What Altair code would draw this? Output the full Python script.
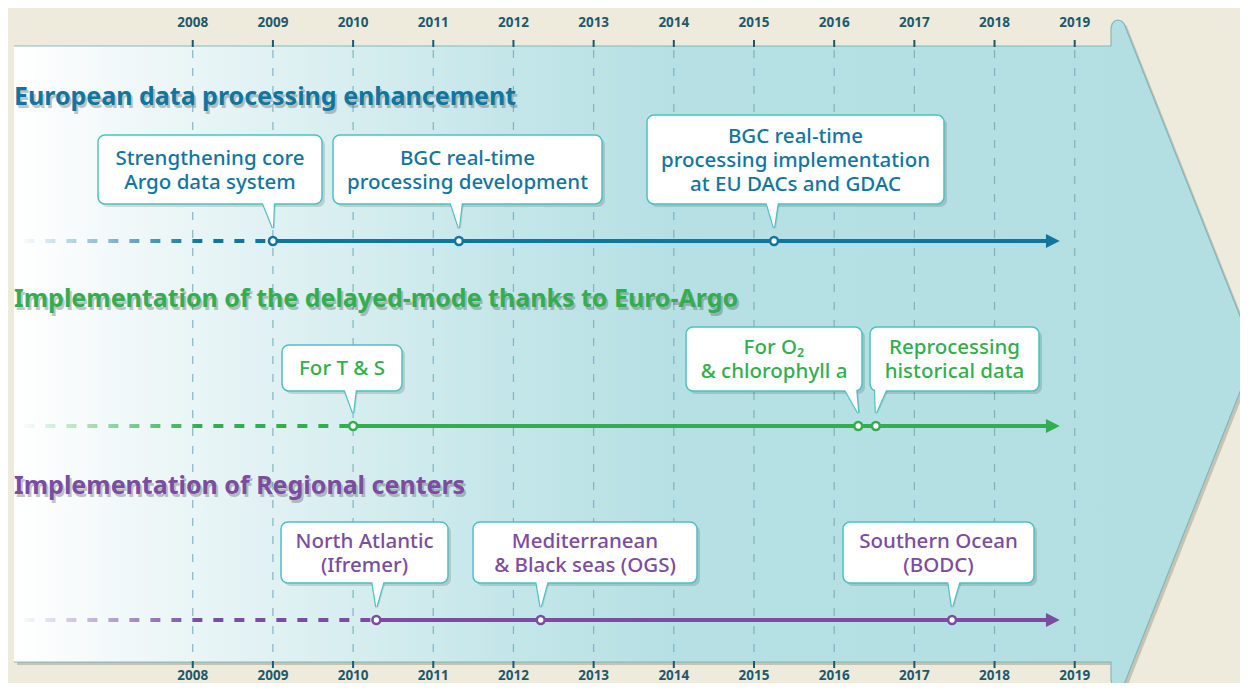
import altair as alt
import pandas as pd

# ---------------- data ----------------
years = list(range(2008, 2020))
row_titles = [
    "European data processing enhancement",
    "Implementation of the delayed-mode thanks to Euro-Argo",
    "Implementation of Regional centers",
]
row_colors = ["#11769f", "#33ae4f", "#7c4ca0"]

row1_years = [2009.0, 2011.32, 2015.25]
row1_labels = ["Strengthening core\nArgo data system",
               "BGC real-time\nprocessing development",
               "BGC real-time\nprocessing implementation\nat EU DACs and GDAC"]
row2_years = [2010.0, 2016.30, 2016.52]
row2_labels = ["For T & S", "For O\u2082\n& chlorophyll a", "Reprocessing\nhistorical data"]
row3_years = [2010.29, 2012.34, 2017.47]
row3_labels = ["North Atlantic\n(Ifremer)", "Mediterranean\n& Black seas (OGS)", "Southern Ocean\n(BODC)"]

line_start_year = 2005.9
line_end_year = 2018.64

# ---------------- layout (screen pixels) ----------------
W, H = 1232, 675
PPY = 80.18
D0 = 2005.696
D1 = D0 + W / PPY


def sx(px):
    return D0 + (px - 8) / PPY


ROW_LINE_Y = [241, 426, 620]
ROW_TITLE_Y = [97, 299, 486]
BOXES = [
    [(98, 322, 135, 204), (333, 602, 135, 204), (647, 944, 115, 204)],
    [(282, 402, 345, 391), (686, 862, 327, 391), (870, 1039, 327, 391)],
    [(281, 448, 522, 583), (473, 697, 522, 583), (843, 1034, 522, 583)],
]
TAIL_BASE = [[268, 456, 772], [350, 850, 881], [378, 542, 954]]
LINE_H = 24

BG = "#eeebdd"
TEAL = "#b3dfe3"
SHADOW = "#c8c3b0"
BORDER = "#4cc1c3"
YEARC = "#1b5a6e"
FONT = "Noto Sans"

xs = alt.Scale(domain=[D0, D1], nice=False, zero=False)
ys = alt.Scale(domain=[8, 683], reverse=True, nice=False, zero=False)
X = alt.X("x:Q", scale=xs, axis=None)
Y = alt.Y("y:Q", scale=ys, axis=None)

layers = []

# ---- arrow shape ----
rect_df = pd.DataFrame({"x": [sx(14)], "x2": [sx(1112)], "y": [46], "y2": [662]})
head_pts = [(1111, 28), (1112, 24), (1114.5, 21), (1118, 20), (1121.5, 21), (1124, 23.5), (1255, 354)]
head_df = pd.DataFrame({"x": [sx(p[0]) for p in head_pts],
                        "y": [p[1] for p in head_pts],
                        "y2": [708 - p[1] for p in head_pts]})

layers.append(alt.Chart(rect_df).mark_rect(color=SHADOW, xOffset=3, x2Offset=3, yOffset=3, y2Offset=3)
              .encode(x=X, x2="x2", y=Y, y2="y2"))
layers.append(alt.Chart(head_df).mark_area(color=SHADOW, orient="vertical", xOffset=3, yOffset=3, y2Offset=3)
              .encode(x=X, y=Y, y2="y2"))

grad_bg = alt.Gradient(gradient="linear", x1=0, x2=1, y1=0, y2=0, stops=[
    alt.GradientStop(color="#ffffff", offset=0),
    alt.GradientStop(color="#f1f8f9", offset=0.1),
    alt.GradientStop(color="#d8eef0", offset=0.3),
    alt.GradientStop(color="#c4e6e9", offset=0.45),
    alt.GradientStop(color="#b6e0e4", offset=0.6),
    alt.GradientStop(color=TEAL, offset=1),
])
layers.append(alt.Chart(rect_df).mark_rect(fill=grad_bg).encode(x=X, x2="x2", y=Y, y2="y2"))
layers.append(alt.Chart(head_df).mark_area(color=TEAL, orient="vertical", opacity=1).encode(x=X, y=Y, y2="y2"))

outline_pts = [(14, 46), (1111, 46)] + head_pts
orows = []
for side in (0, 1):
    for i, (px, py) in enumerate(outline_pts):
        orows.append({"x": sx(px), "y": py if side == 0 else 708 - py, "o": i, "g": side})
layers.append(alt.Chart(pd.DataFrame(orows)).mark_line(color="#72b3be", strokeWidth=1.2, opacity=0.85)
              .encode(x=X, y=Y, order="o:Q", detail="g:N"))

# ---- grid, ticks, year labels ----
grid_df = pd.DataFrame({"x": years, "y": [50] * len(years), "y2": [662] * len(years)})
layers.append(alt.Chart(grid_df).mark_rule(color="#78a9b7", strokeWidth=1.2, strokeDash=[8, 10], opacity=0.85)
              .encode(x=X, y=Y, y2="y2"))
for (t0, t1) in ((40, 47), (661, 668)):
    tick_df = pd.DataFrame({"x": years, "y": [t0] * len(years), "y2": [t1] * len(years)})
    layers.append(alt.Chart(tick_df).mark_rule(color=YEARC, strokeWidth=2).encode(x=X, y=Y, y2="y2"))
for ly in (22.5, 676):
    lab_df = pd.DataFrame({"x": years, "y": [ly] * len(years), "t": [str(v) for v in years]})
    layers.append(alt.Chart(lab_df).mark_text(font=FONT, fontSize=13.5, fontWeight="bold", color=YEARC,
                                              baseline="middle", align="center")
                  .encode(x=X, y=Y, text="t:N"))

# ---- rows ----
all_years = [row1_years, row2_years, row3_years]
all_labels = [row1_labels, row2_labels, row3_labels]

for r in range(3):
    c = row_colors[r]
    ly = ROW_LINE_Y[r]
    ev = all_years[r]
    # title with shadow
    tdf = pd.DataFrame({"x": [sx(14)], "y": [ROW_TITLE_Y[r]], "t": [row_titles[r]]})
    layers.append(alt.Chart(tdf).mark_text(font=FONT, fontSize=25, fontWeight="bold", color="#404040",
                                           opacity=0.3, align="left", baseline="middle", dx=2, dy=2.5)
                  .encode(x=X, y=Y, text="t:N"))
    layers.append(alt.Chart(tdf).mark_text(font=FONT, fontSize=25, fontWeight="bold", color=c,
                                           align="left", baseline="middle")
                  .encode(x=X, y=Y, text="t:N"))

    # dashed fading part
    end_px = 8 + (ev[0] - D0) * PPY
    start_px = 8 + (line_start_year - D0) * PPY
    full = min(0.95, (200 - start_px) / (end_px - start_px))
    hexc = c.lstrip("#")
    rr, gg, bb = int(hexc[0:2], 16), int(hexc[2:4], 16), int(hexc[4:6], 16)
    dgrad = alt.Gradient(gradient="linear", x1=0, x2=1, y1=0, y2=0, stops=[
        alt.GradientStop(color=f"rgba({rr},{gg},{bb},0.04)", offset=0),
        alt.GradientStop(color=f"rgba({rr},{gg},{bb},0.55)", offset=full * 0.55),
        alt.GradientStop(color=f"rgba({rr},{gg},{bb},1)", offset=full),
        alt.GradientStop(color=f"rgba({rr},{gg},{bb},1)", offset=1),
    ])
    ddf = pd.DataFrame({"x": [line_start_year, ev[0]], "y": [ly, ly + 0.05]})
    layers.append(alt.Chart(ddf).mark_line(stroke=dgrad, strokeWidth=4, strokeDash=[10, 11], strokeCap="butt")
                  .encode(x=X, y=Y))
    # solid part + arrow head
    sdf = pd.DataFrame({"x": [ev[0]], "x2": [line_end_year + 0.05], "y": [ly]})
    layers.append(alt.Chart(sdf).mark_rule(color=c, strokeWidth=4).encode(x=X, x2="x2", y=Y))
    adf = pd.DataFrame({"x": [line_end_year + 7 / PPY], "y": [ly]})
    layers.append(alt.Chart(adf).mark_point(shape="M-1,-1L1,0L-1,1Z", filled=True, color=c, size=190,
                                            opacity=1, strokeWidth=0)
                  .encode(x=X, y=Y))

    # callouts
    bx = BOXES[r]
    labels = all_labels[r]
    box_df = pd.DataFrame({
        "x": [sx(b[0]) for b in bx], "x2": [sx(b[1]) for b in bx],
        "y": [b[2] for b in bx], "y2": [b[3] for b in bx],
        "cx": [sx((b[0] + b[1]) / 2) for b in bx],
        "cy": [(b[2] + b[3]) / 2 + 1 - (lab.count("\n")) * LINE_H / 2 for b, lab in zip(bx, labels)],
        "t": labels,
    })
    trows = []
    for i, b in enumerate(bx):
        base = TAIL_BASE[r][i]
        trows.append({"id": i, "y": b[3] - 3, "x": sx(base - 6), "x2": sx(base + 6)})
        trows.append({"id": i, "y": ly - 13, "x": ev[i], "x2": ev[i]})
    tail_df = pd.DataFrame(trows)

    layers.append(alt.Chart(box_df).mark_rect(color="#000000", opacity=0.13, cornerRadius=7,
                                              xOffset=3, x2Offset=3, yOffset=3, y2Offset=3)
                  .encode(x=X, x2="x2", y=Y, y2="y2"))
    layers.append(alt.Chart(tail_df).mark_area(orient="horizontal", color="#000000", opacity=0.1,
                                               xOffset=2, x2Offset=2, yOffset=1)
                  .encode(y=Y, x=X, x2="x2", detail="id:N"))
    layers.append(alt.Chart(tail_df).mark_area(orient="horizontal", fill="white", stroke=BORDER,
                                               strokeWidth=2.4, opacity=1)
                  .encode(y=Y, x=X, x2="x2", detail="id:N"))
    layers.append(alt.Chart(box_df).mark_rect(fill="white", stroke=BORDER, strokeWidth=1.5, cornerRadius=7)
                  .encode(x=X, x2="x2", y=Y, y2="y2"))
    layers.append(alt.Chart(tail_df).mark_area(orient="horizontal", fill="white", opacity=1)
                  .encode(y=Y, x=X, x2="x2", detail="id:N"))
    layers.append(alt.Chart(box_df).mark_text(font=FONT, fontSize=20.5, fontWeight=500, color=c,
                                              align="center", baseline="middle", lineBreak="\n",
                                              lineHeight=LINE_H)
                  .encode(x=alt.X("cx:Q", scale=xs, axis=None), y=alt.Y("cy:Q", scale=ys, axis=None), text="t:N"))

    # event circles
    edf = pd.DataFrame({"x": ev, "y": [ly] * len(ev)})
    layers.append(alt.Chart(edf).mark_circle(fill="white", stroke=c, strokeWidth=2.6, size=62, opacity=1)
                  .encode(x=X, y=Y))

chart = alt.layer(*layers).properties(
    width=W, height=H, padding=0,
    autosize=alt.AutoSizeParams(type="none"),
).configure(background=BG).configure_view(strokeWidth=0)

chart.save("out.html", embed_options={"renderer": "svg", "actions": False})
